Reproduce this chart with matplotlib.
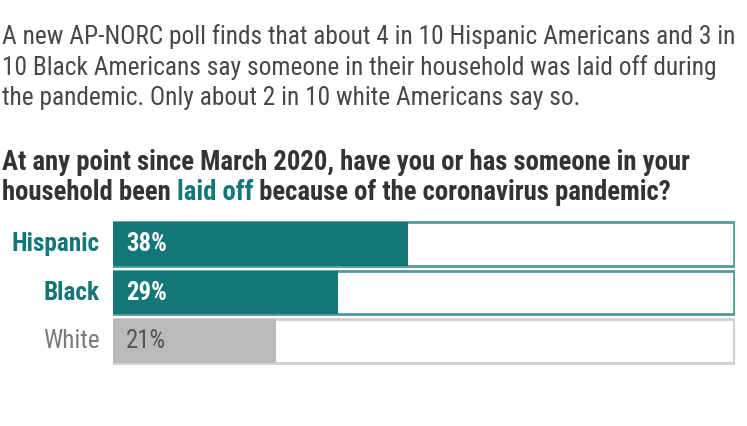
import matplotlib
matplotlib.use("Agg")
import matplotlib.pyplot as plt
from matplotlib import font_manager

# data
groups = ["Hispanic", "Black", "White"]
values = [38, 29, 21]
scale_max = 80

subtitle = ["A new AP-NORC poll finds that about 4 in 10 Hispanic Americans and 3 in",
            "10 Black Americans say someone in their household was laid off during",
            "the pandemic. Only about 2 in 10 white Americans say so."]
question_1 = "At any point since March 2020, have you or has someone in your"
question_2 = ["household been ", "laid off", " because of the coronavirus pandemic?"]

TEAL = "#147777"
TEAL_EDGE = "#4f9c9a"
GRAY = "#b9babc"
GRAY_EDGE = "#cfcfcf"
DARK = "#333333"
BODY = "#474747"

# narrow Helvetica-like faces, first one installed wins
weights = {}
for f in font_manager.fontManager.ttflist:
    w = f.weight if isinstance(f.weight, int) else font_manager.weight_dict.get(f.weight, 400)
    if f.style == "normal":
        weights.setdefault(f.name, set()).add(w)

reg_pref = ["Liberation Sans Narrow", "Arimo Narrow", "Roboto Condensed",
            "Archivo Narrow", "IBM Plex Sans Condensed", "Asap Condensed", "Liberation Sans"]
bold_pref = ["Liberation Sans Narrow", "Roboto Condensed", "IBM Plex Sans Condensed",
             "Barlow Semi Condensed", "Asap Condensed", "Liberation Sans"]
REG_FAM = next(n for n in reg_pref if n in weights and min(weights[n]) <= 450)
BOLD_FAM = next(n for n in bold_pref if n in weights and max(weights[n]) >= 650)

W, H = 747, 426
fig = plt.figure(figsize=(W / 100, H / 100), dpi=100)
fig.patch.set_facecolor("white")
renderer = fig.canvas.get_renderer()


def fy(y):
    return 1 - y / H


def fx(x):
    return x / W


def txt(x, y, s, bold=False, size=16, color=DARK, **kw):
    fp = font_manager.FontProperties(family=BOLD_FAM if bold else REG_FAM,
                                     weight="bold" if bold else "normal", size=size)
    return fig.text(x, y, s, fontproperties=fp, color=color, **kw)


def fit_size(s, width, bold=False, base=20):
    t = txt(0, 0, s, bold, base)
    w = t.get_window_extent(renderer=renderer).width
    t.remove()
    return base * width / w


s_body = fit_size(subtitle[0], 733)
s_q = fit_size(question_1, 690, True)
s_lab = fit_size("Hispanic", 88, True)
s_val = fit_size("38%", 41, True)

for i, line in enumerate(subtitle):
    txt(fx(2), fy(37 + i * 30.5), line, False, s_body, BODY, va="center", ha="left")

txt(fx(2), fy(162), question_1, True, s_q, DARK, va="center")

# second question line with coloured "laid off"
x = fx(2)
for j, part in enumerate(question_2):
    t = txt(x, fy(192.5), part, True, s_q, TEAL if j == 1 else DARK, va="center")
    bb = t.get_window_extent(renderer=renderer)
    x = bb.x1 / W

# bars
ax = fig.add_axes([fx(113), fy(365), fx(735) - fx(113), (365 - 220) / H])
ypos = list(range(len(groups)))
fills = [TEAL, TEAL, GRAY]
edges = [TEAL_EDGE, TEAL_EDGE, GRAY_EDGE]
ax.barh(ypos, [scale_max] * len(groups), height=0.9, color="white",
        edgecolor=edges, linewidth=2)
ax.barh(ypos, values, height=0.9, color=fills, linewidth=0)
ax.set_xlim(0, scale_max * 1.002)
ax.set_ylim(len(groups) - 0.5, -0.5)
ax.axis("off")

for i, (g, v) in enumerate(zip(groups, values)):
    teal = i < 2
    yy = fy(244 + i * 48.5)
    txt(fx(126), yy, f"{v}%", teal, s_val, "white" if teal else "#555555", va="center", ha="left")
    txt(fx(100), yy, g, teal, s_lab, TEAL if teal else "#7a7a7a", va="center", ha="right")

fig.savefig("out.png", dpi=100)
